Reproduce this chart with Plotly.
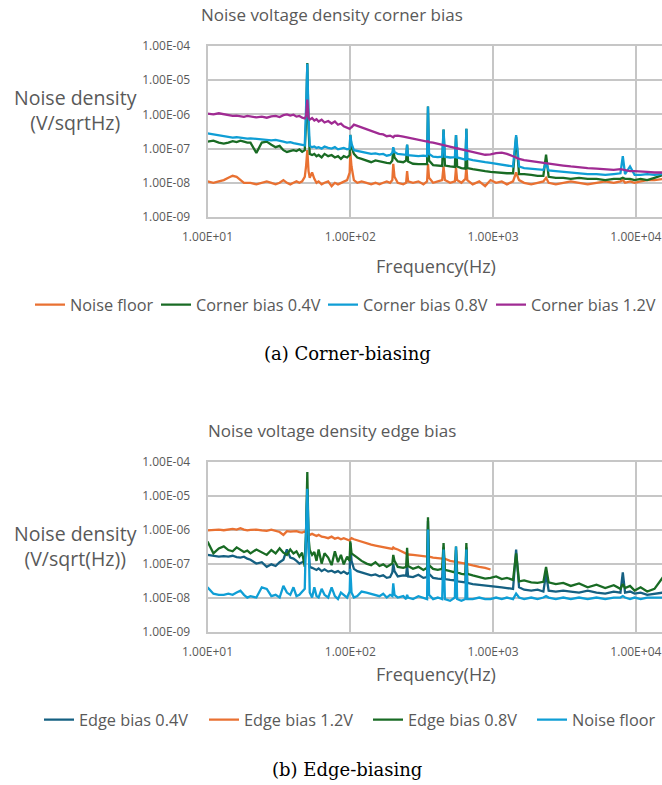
import numpy as np
import plotly.graph_objects as go

# ---------------- data (values in nV/sqrt(Hz)) ----------------
FREQ_HZ = [10, 11, 12, 13, 14, 15, 16, 17, 18, 19,
           20, 22, 24, 26, 28, 30, 32, 34, 36, 38,
           40, 42, 44, 46, 48, 49, 50, 51, 52, 54,
           56, 58, 60, 63, 66, 70, 74, 78, 82, 86,
           90, 95, 99, 100, 102, 106, 112, 120, 130, 140,
           150, 160, 170, 180, 190, 197, 200, 204, 215, 235,
           246, 250, 254, 275, 300, 325, 345, 350, 356, 380,
           410, 440, 450, 460, 500, 540, 550, 560, 600, 640,
           650, 660, 720, 800, 880, 960, 1050, 1150, 1250, 1380,
           1450, 1520, 1650, 1850, 2050, 2250, 2350, 2450, 2750, 3100,
           3500, 4000, 4600, 5300, 6100, 7000, 7800, 8100, 8400, 9100,
           9800, 10800, 12000, 13500, 15500]

# (a) corner biasing
CORNER_NOISE_FLOOR = [11, 10, 11, 12, 14, 16, 15, 12, 10, 10,
                      10, 9, 10, 11, 10, 9, 10, 12, 10, 9,
                      10, 11, 10, 11, 15, 30, 90, 22, 14, 20,
                      13, 10, 11, 9, 10, 11, 8, 10, 9, 10,
                      11, 12, 20, 80, 30, 12, 10, 11, 10, 9,
                      10, 9, 10, 11, 10, 12, 36, 15, 10, 9,
                      10, 22, 11, 10, 11, 9, 11, 35, 14, 10,
                      11, 12, 30, 12, 10, 11, 28, 12, 10, 13,
                      30, 12, 9, 11, 8, 12, 10, 11, 9, 11,
                      20, 12, 10, 9, 10, 11, 14, 10, 9, 10,
                      11, 10, 9, 10, 11, 10, 11, 12, 10, 11,
                      10, 11, 12, 12, 13]
CORNER_04V = [160, 170, 150, 140, 150, 165, 155, 170, 160, 150,
              150, 75, 150, 160, 130, 110, 120, 90, 80, 85,
              90, 85, 95, 80, 90, 600, 32000, 400, 70, 65,
              70, 60, 65, 55, 70, 60, 65, 55, 60, 50,
              60, 55, 65, 250, 110, 70, 55, 50, 45, 40,
              45, 42, 40, 38, 37, 45, 100, 55, 42, 40,
              45, 130, 42, 36, 35, 34, 35, 1700, 45, 33,
              32, 31, 360, 32, 30, 29, 250, 30, 27, 26,
              380, 27, 25, 24, 22, 21, 20, 20, 19, 19,
              220, 18, 18, 17, 16, 16, 67, 15, 14, 14,
              13, 14, 13, 13, 12, 13, 13, 14, 13, 13,
              12, 13, 12, 14, 17]
CORNER_08V = [280, 260, 240, 230, 220, 210, 215, 205, 200, 195,
              200, 190, 185, 180, 175, 180, 165, 160, 150, 155,
              145, 140, 135, 130, 125, 1500, 30000, 800, 120, 110,
              115, 105, 110, 100, 115, 105, 100, 110, 95, 100,
              105, 95, 100, 250, 140, 90, 85, 80, 75, 70,
              72, 68, 70, 62, 65, 75, 110, 80, 70, 68,
              66, 130, 64, 62, 60, 62, 60, 1700, 70, 58,
              56, 58, 360, 58, 55, 56, 250, 55, 50, 48,
              380, 50, 46, 42, 40, 38, 36, 34, 32, 30,
              250, 30, 27, 26, 25, 24, 38, 23, 22, 21,
              20, 19, 18, 18, 17, 18, 19, 60, 18, 30,
              17, 17, 18, 17, 18]
CORNER_12V = [1050, 1000, 1080, 1000, 950, 900, 920, 880, 850, 900,
              880, 820, 860, 800, 880, 900, 840, 950, 1000, 920,
              980, 860, 900, 800, 760, 900, 2700, 800, 700, 780,
              660, 720, 620, 700, 580, 640, 540, 620, 500, 540,
              450, 420, 380, 400, 420, 500, 460, 430, 380, 330,
              300, 270, 260, 230, 240, 220, 215, 235, 240, 225,
              215, 212, 210, 200, 180, 165, 160, 165, 155, 150,
              140, 130, 128, 125, 115, 105, 100, 102, 95, 90,
              88, 86, 80, 72, 66, 68, 74, 76, 70, 60,
              55, 50, 46, 43, 40, 37, 36, 35, 34, 32,
              30, 28, 27, 26, 25, 24, 25, 24, 23, 22,
              22, 21, 21, 20, 20]

# (b) edge biasing
EDGE_04V = [180, 170, 160, 165, 160, 170, 155, 150, 160, 140,
            130, 100, 110, 80, 95, 85, 110, 130, 260, 150,
            140, 120, 100, 110, 120, 500, 15000, 300, 80, 75,
            70, 65, 72, 60, 68, 58, 62, 55, 60, 52,
            58, 50, 55, 400, 120, 70, 60, 55, 50, 45,
            48, 42, 45, 38, 40, 55, 100, 60, 42, 45,
            44, 90, 42, 40, 47, 38, 40, 1800, 50, 38,
            36, 35, 300, 35, 33, 32, 250, 30, 29, 28,
            300, 27, 25, 24, 22, 22, 21, 20, 19, 18,
            260, 20, 17, 16, 17, 15, 50, 16, 15, 16,
            15, 14, 16, 14, 13, 15, 14, 55, 14, 15,
            13, 14, 12, 13, 14]
EDGE_12V = [950, 980, 1000, 960, 1000, 1050, 1000, 1100, 1000, 950,
            980, 1000, 950, 920, 1000, 900, 850, 700, 900, 870,
            880, 900, 850, 820, 880, 820, 800, 760, 700, 750,
            700, 650, 700, 620, 600, 560, 620, 540, 580, 520,
            560, 500, 480, 520, 560, 520, 480, 450, 400, 360,
            340, 320, 300, 290, 280, 270, 300, 280, 260, 220,
            200, 190, 185, 180, 175, 165, 160, 170, 160, 150,
            145, 140, 150, 138, 120, 115, 110, 112, 105, 100,
            98, 96, 88, 80, 75, 67]
EDGE_08V = [450, 200, 280, 320, 250, 230, 300, 260, 220, 240,
            200, 260, 220, 180, 250, 200, 280, 210, 180, 260,
            200, 230, 160, 210, 80, 900, 50000, 600, 250, 180,
            220, 120, 260, 100, 200, 150, 90, 230, 110, 180,
            95, 160, 120, 450, 200, 180, 150, 120, 100, 90,
            110, 85, 95, 80, 90, 100, 180, 120, 80, 75,
            80, 290, 85, 70, 80, 65, 75, 2300, 90, 70,
            65, 70, 400, 65, 60, 55, 320, 55, 50, 48,
            400, 50, 45, 40, 36, 38, 42, 35, 38, 33,
            200, 30, 32, 28, 27, 29, 80, 28, 25, 27,
            22, 26, 20, 24, 19, 23, 18, 25, 19, 22,
            16, 20, 15, 18, 40]
EDGE_NOISE_FLOOR = [20, 13, 12, 12, 13, 12, 14, 16, 12, 10,
                    11, 10, 20, 18, 11, 12, 10, 22, 14, 12,
                    20, 11, 12, 15, 18, 1000, 16000, 800, 14, 10,
                    20, 11, 10, 18, 12, 10, 20, 11, 9, 14,
                    12, 10, 15, 70, 14, 10, 11, 15, 14, 13,
                    12, 11, 13, 10, 12, 11, 26, 12, 10, 11,
                    9, 12, 10, 9, 11, 10, 9, 1000, 12, 9,
                    10, 9, 260, 9, 8, 10, 320, 9, 8, 9,
                    260, 9, 9, 10, 9, 9, 10, 9, 10, 9,
                    13, 10, 9, 10, 9, 10, 11, 10, 9, 10,
                    9, 10, 9, 10, 9, 10, 10, 11, 10, 9,
                    10, 9, 10, 10, 10]

X_TICKS = [10, 100, 1000, 10000]
X_TICKTEXT = ["1.00E+01", "1.00E+02", "1.00E+03", "1.00E+04"]
Y_TICKS = [1e-9, 1e-8, 1e-7, 1e-6, 1e-5, 1e-4]
Y_TICKTEXT = ["1.00E-09", "1.00E-08", "1.00E-07", "1.00E-06", "1.00E-05", "1.00E-04"]

SERIES_A = [("Noise floor", CORNER_NOISE_FLOOR, "#E97132"),
            ("Corner bias 0.4V", CORNER_04V, "#196B24"),
            ("Corner bias 0.8V", CORNER_08V, "#0F9ED5"),
            ("Corner bias 1.2V", CORNER_12V, "#A02B93")]
SERIES_B = [("Edge bias 0.4V", EDGE_04V, "#156082"),
            ("Edge bias 1.2V", EDGE_12V, "#E97132"),
            ("Edge bias 0.8V", EDGE_08V, "#196B24"),
            ("Noise floor", EDGE_NOISE_FLOOR, "#0F9ED5")]

# ---------------- figure ----------------
W, H = 662, 785
FONT = "Open Sans"
GREY = "#595959"
GRID = "#C6C6C6"


def px_x(p):
    return p / W


def px_y(p):
    return 1 - p / H


fig = go.Figure()

# x pixel where each legend line symbol starts
LEG_A_X = [35, 161, 328, 496]
LEG_B_X = [44, 209, 373, 537]

k = 0
for name, vals, col in SERIES_A:
    k += 1
    f = FREQ_HZ[:len(vals)]
    fig.add_trace(go.Scatter(x=f, y=np.array(vals) * 1e-9, mode="lines", name=name,
                             line=dict(color=col, width=2.3), xaxis="x", yaxis="y",
                             legend="legend" if k == 1 else f"legend{k}"))
for name, vals, col in SERIES_B:
    k += 1
    f = FREQ_HZ[:len(vals)]
    fig.add_trace(go.Scatter(x=f, y=np.array(vals) * 1e-9, mode="lines", name=name,
                             line=dict(color=col, width=2.3), xaxis="x2", yaxis="y2",
                             legend=f"legend{k}"))

legends = {}
for i, lx in enumerate(LEG_A_X + LEG_B_X):
    key = "legend" if i == 0 else f"legend{i + 1}"
    ly = 305 if i < 4 else 720
    legends[key] = dict(x=px_x(lx - 5), y=px_y(ly), xanchor="left", yanchor="middle",
                        orientation="h", bgcolor="rgba(0,0,0,0)", borderwidth=0,
                        font=dict(family=FONT, size=16.3, color=GREY), itemwidth=30)

xcommon = dict(type="log", range=[1, 4.183], tickvals=X_TICKS, ticktext=X_TICKTEXT,
               showgrid=True, gridcolor=GRID, gridwidth=1.8, showline=True, linecolor=GRID,
               linewidth=1.8, mirror=True, ticks="", zeroline=False, automargin=False,
               tickfont=dict(family=FONT, size=12, color=GREY), ticklabelstandoff=8)
ycommon = dict(type="log", range=[-9, -4], tickvals=Y_TICKS, ticktext=Y_TICKTEXT,
               showgrid=True, gridcolor=GRID, gridwidth=1.8, showline=True, linecolor=GRID,
               linewidth=1.8, mirror=False, ticks="", zeroline=False, automargin=False,
               tickfont=dict(family=FONT, size=12, color=GREY), ticklabelstandoff=13)

fig.update_layout(
    width=W, height=H, margin=dict(l=0, r=0, t=0, b=0, autoexpand=False),
    paper_bgcolor="white", plot_bgcolor="white", showlegend=True,
    xaxis=dict(domain=[px_x(207.5), 1], anchor="y", **xcommon),
    yaxis=dict(domain=[px_y(217), px_y(46)], anchor="x", **ycommon),
    xaxis2=dict(domain=[px_x(207.5), 1], anchor="y2", **xcommon),
    yaxis2=dict(domain=[px_y(631.5), px_y(461.7)], anchor="x2", **ycommon),
    **legends,
)

ann = [
    ("Noise voltage density corner bias", 332, 15, 17, FONT, GREY),
    ("Noise density<br>(V/sqrtHz)", 75, 110, 19.5, FONT, GREY),
    ("Frequency(Hz)", 436, 266, 18, FONT, GREY),
    ("(a) Corner-biasing", 347, 353, 18, "DejaVu Serif", "#000000"),
    ("Noise voltage density edge bias", 332, 430, 17, FONT, GREY),
    ("Noise density<br>(V/sqrt(Hz))", 75, 546, 19.5, FONT, GREY),
    ("Frequency(Hz)", 436, 674, 18, FONT, GREY),
    ("(b) Edge-biasing", 347, 769, 18, "DejaVu Serif", "#000000"),
]
for text, ax, ay, size, fam, col in ann:
    fig.add_annotation(text=text, x=px_x(ax), y=px_y(ay), xref="paper", yref="paper",
                       xanchor="center", yanchor="middle", showarrow=False,
                       font=dict(family=fam, size=size, color=col))

fig.write_html("out.html", config={"displayModeBar": False},
               post_script="document.body.style.margin='0';document.body.style.overflow='hidden';")
